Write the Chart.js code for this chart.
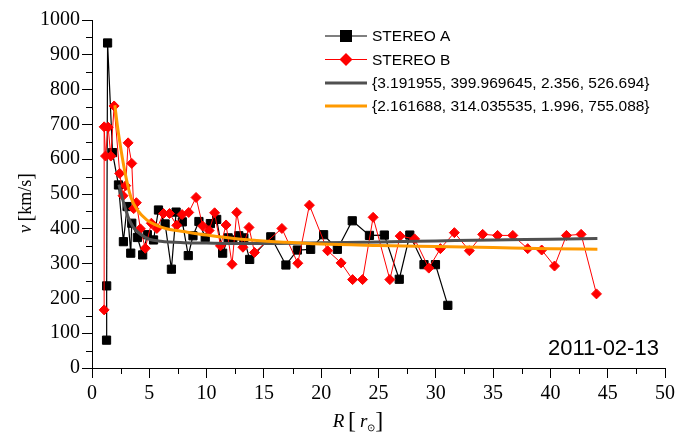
<!DOCTYPE html>
<html><head><meta charset="utf-8">
<script src="https://cdn.jsdelivr.net/npm/chart.js@4"></script>
<style>
html,body{margin:0;padding:0;background:#fff;}
#wrap{position:relative;width:679px;height:433px;overflow:hidden;}
canvas{position:absolute;left:0;top:0;}
.ttl{position:absolute;font-family:"Liberation Serif",serif;color:#000;white-space:nowrap;line-height:1;}
#ytitle{left:24px;top:203px;font-size:18px;transform:translate(-50%,-50%) rotate(-90deg);}
#xtitle{left:358px;top:420px;font-size:19px;transform:translate(-50%,-50%);}
.br{font-size:24px;position:relative;top:1px;}
#date{position:absolute;left:548px;top:337px;font-family:"Liberation Sans",Arial,sans-serif;font-size:22px;color:#000;line-height:1;}
</style></head>
<body><div id="wrap"><canvas id="c" width="679" height="433"></canvas>
<div class="ttl" id="ytitle"><i>v</i>&thinsp;<span class="br" style="font-size:20px">[</span>km/s<span class="br" style="font-size:20px">]</span></div>
<div class="ttl" id="xtitle"><i>R</i>&thinsp;<span class="br">[</span>&thinsp;<i>r</i><sub style="font-size:10px">⊙</sub><span class="br">]</span></div>
<div id="date">2011-02-13</div></div>
<script>
// ---- data ----
const seriesNames = ['STEREO A', 'STEREO B',
  '{3.191955, 399.969645, 2.356, 526.694}',
  '{2.161688, 314.035535, 1.996, 755.088}'];

const rA = [1.27,1.28,1.36,1.79,2.31,2.74,3.06,3.38,3.47,3.96,4.42,4.83,5.37,5.80,6.38,6.93,7.34,7.88,8.40,8.81,
            9.33,9.88,10.33,10.88,11.40,11.88,12.29,12.81,13.25,13.76,15.60,16.92,17.92,19.08,20.21,21.41,22.71,
            24.21,25.51,26.81,27.73,28.97,29.97,31.05];
const vA = [80,236,934,619,526,363,464,330,416,375,325,383,368,454,414,284,448,420,323,380,
            421,375,415,427,330,374,368,380,374,312,377,296,339,341,383,341,423,
            381,382,255,382,297,297,180];

const rB = [1.06,1.06,1.18,1.41,1.64,1.93,2.42,2.71,2.94,3.15,3.47,3.64,3.87,4.22,4.65,5.18,5.66,6.24,6.76,7.40,
            7.86,8.44,9.08,9.66,10.22,10.70,11.21,11.70,12.22,12.63,13.17,13.70,14.18,16.57,17.96,18.97,20.56,
            21.74,22.74,23.61,24.53,25.99,26.89,28.15,29.39,30.40,31.62,32.93,34.09,35.39,36.72,38.02,39.24,
            40.36,41.40,42.68,44.02];
const vB = [167,693,609,692,609,753,559,495,524,647,588,458,475,400,344,416,401,444,444,410,
            441,447,490,408,395,446,351,411,298,447,347,404,332,401,301,468,337,
            302,254,254,433,254,379,371,287,343,389,337,384,381,381,343,339,
            293,381,384,213];

const rFitA = [2.356,2.8,3.2,3.6,4.2,5,6,8,10,13,16,20,25,30,35,40,44.1];
const vFitA = [527,470,430,405,385,370,364,360,359,358,358,360,362,365,368,370,372];

const rFitB = [1.996,2.2,2.42,2.86,3.4,4.0,4.8,5.5,6.5,8,10,13,17,20,25,30,35,40,44.1];
const vFitB = [755,700,650,565,490,452,425,412,400,392,382,370,361,356,352,349,346,343,341];

const xTickStep = 5, yTickStep = 100;

const pts = (xs, ys) => xs.map((x, i) => ({x: x, y: ys[i]}));

const minorTicks = {
  id: 'minorTicks',
  afterDraw(chart) {
    const {ctx, scales: {x, y}, chartArea: a} = chart;
    ctx.save();
    ctx.strokeStyle = '#000';
    ctx.lineWidth = 1;
    ctx.beginPath();
    for (let v = xTickStep / 2; v < x.max; v += xTickStep) {
      const px = Math.round(x.getPixelForValue(v)) + 0.5;
      ctx.moveTo(px, a.bottom); ctx.lineTo(px, a.bottom + 6);
    }
    for (let v = yTickStep / 2; v < y.max; v += yTickStep) {
      const py = Math.round(y.getPixelForValue(v)) + 0.5;
      ctx.moveTo(a.left, py); ctx.lineTo(a.left - 6, py);
    }
    ctx.stroke();
    ctx.restore();
  }
};

const legendBox = {
  id: 'legendBox',
  afterDraw(chart) {
    const ctx = chart.ctx;
    const x0 = 325, x1 = 367, tx = 372, rows = [36, 59.5, 83, 106];
    ctx.save();
    chart.data.datasets.forEach((ds, i) => {
      const y = rows[i];
      ctx.strokeStyle = ds.borderColor;
      ctx.lineWidth = ds.borderWidth;
      ctx.beginPath(); ctx.moveTo(x0, y); ctx.lineTo(x1, y); ctx.stroke();
      const cx = (x0 + x1) / 2;
      ctx.fillStyle = ds.pointBackgroundColor || ds.borderColor;
      if (ds.pointStyle === 'rect') {
        ctx.fillRect(cx - 6, y - 6, 12, 12);
      } else if (ds.pointStyle === 'rectRot') {
        ctx.beginPath(); ctx.moveTo(cx, y - 6.5); ctx.lineTo(cx + 6.5, y); ctx.lineTo(cx, y + 6.5); ctx.lineTo(cx - 6.5, y); ctx.closePath(); ctx.fill();
      }
      ctx.fillStyle = '#000';
      ctx.font = '15.5px "Liberation Sans", Arial, sans-serif';
      ctx.textBaseline = 'middle';
      ctx.textAlign = 'left';
      ctx.fillText(ds.label, tx, y + 1);
    });
    ctx.restore();
  }
};

const tickFont = {family: 'Liberation Serif, Times New Roman, serif', size: 20};
const plainNum = v => String(v);

new Chart(document.getElementById('c'), {
  type: 'line',
  data: {
    datasets: [
      {label: seriesNames[0], data: pts(rA, vA), borderColor: '#000000', borderWidth: 1.2,
       pointStyle: 'rect', pointRadius: 5.8, pointBackgroundColor: '#000000', pointBorderColor: '#000000', pointBorderWidth: 1, order: 3},
      {label: seriesNames[1], data: pts(rB, vB), borderColor: '#ff0000', borderWidth: 1,
       pointStyle: 'rectRot', pointRadius: 5, pointBackgroundColor: '#ff0000', pointBorderColor: '#ff0000', pointBorderWidth: 1, order: 2},
      {label: seriesNames[2], data: pts(rFitA, vFitA), borderColor: '#505050', borderWidth: 3,
       pointRadius: 0, cubicInterpolationMode: 'monotone', order: 1},
      {label: seriesNames[3], data: pts(rFitB, vFitB), borderColor: '#ff9a00', borderWidth: 3,
       pointRadius: 0, cubicInterpolationMode: 'monotone', order: 0}
    ]
  },
  options: {
    responsive: false, animation: false, devicePixelRatio: 1,
    layout: {padding: {top: 20, right: 10, left: 0, bottom: 0}},
    plugins: {legend: {display: false}, tooltip: {enabled: false}},
    scales: {
      x: {type: 'linear', min: 0, max: 50,
          ticks: {stepSize: xTickStep, color: '#000', font: tickFont, padding: 4, maxRotation: 0, callback: plainNum},
          grid: {drawOnChartArea: false, drawTicks: true, tickLength: 10, color: '#000', tickColor: '#000'},
          border: {display: true, color: '#000', width: 1},
          afterFit: s => { s.height = 65; }},
      y: {type: 'linear', min: 0, max: 1000,
          ticks: {stepSize: yTickStep, color: '#000', font: tickFont, padding: 2, callback: plainNum},
          grid: {drawOnChartArea: false, drawTicks: true, tickLength: 10, color: '#000', tickColor: '#000'},
          border: {display: true, color: '#000', width: 1},
          afterFit: s => { s.width = 92; }}
    }
  },
  plugins: [minorTicks, legendBox]
});
</script>
</body></html>
